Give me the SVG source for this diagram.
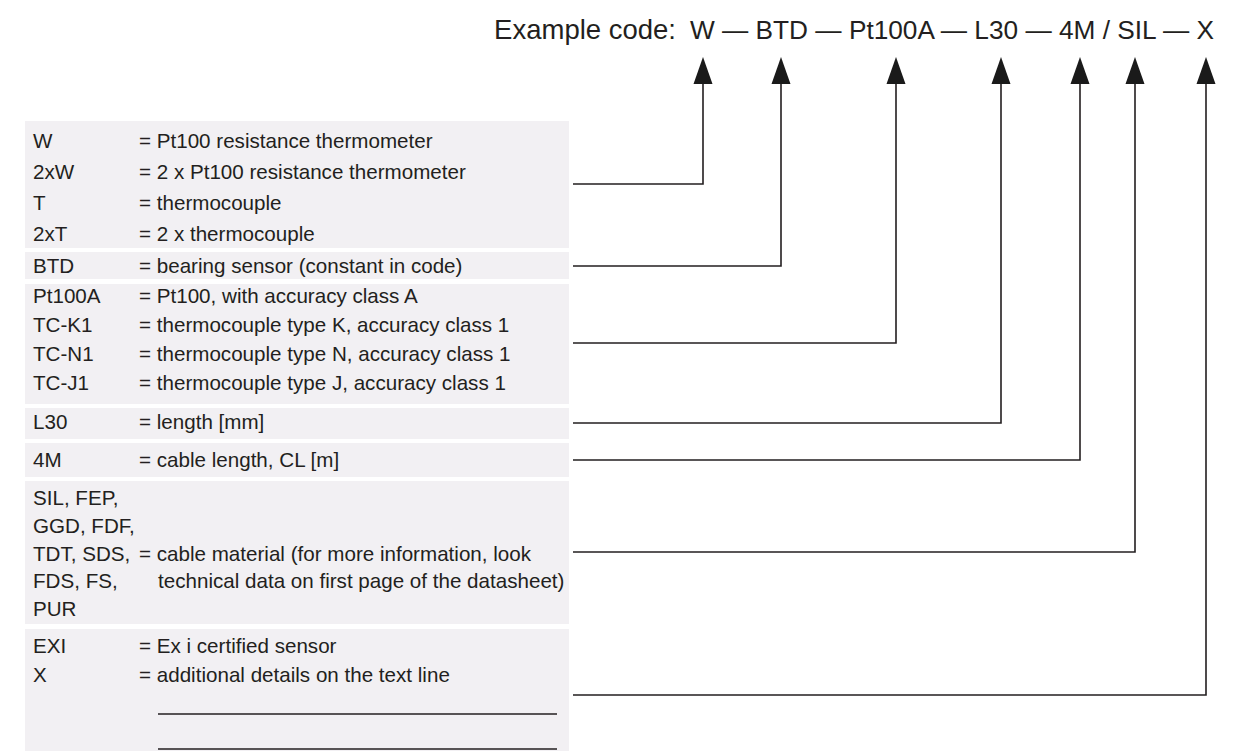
<svg xmlns="http://www.w3.org/2000/svg" width="1233" height="751" viewBox="0 0 1233 751">
<style>
.bg{fill:#f2f0f3}
.t{font-family:"Liberation Sans",Arial,sans-serif;font-size:20.6px;fill:#231f20}
.title{font-family:"Liberation Sans",Arial,sans-serif;font-size:27.5px;fill:#231f20}
.code{font-family:"Liberation Sans",Arial,sans-serif;font-size:26.5px;fill:#231f20}
.c{fill:none;stroke:#231f20;stroke-width:1.6}
.ah{fill:#1a1a1a}
.bl{stroke:#231f20;stroke-width:1.3}
</style>
<rect width="1233" height="751" fill="#ffffff"/>
<g id="title">
<text class="title" x="676" y="39" text-anchor="end">Example code:</text>
<text class="code" x="690" y="39" textLength="524" lengthAdjust="spacingAndGlyphs">W — BTD — Pt100A — L30 — 4M / SIL — X</text>
</g>
<g id="node-w">
<rect class="bg" x="25" y="121" width="544" height="127"/>
<text class="t" x="33" y="148">W</text><text class="t" x="139" y="148">= Pt100 resistance thermometer</text>
<text class="t" x="33" y="179">2xW</text><text class="t" x="139" y="179">= 2 x Pt100 resistance thermometer</text>
<text class="t" x="33" y="210">T</text><text class="t" x="139" y="210">= thermocouple</text>
<text class="t" x="33" y="241">2xT</text><text class="t" x="139" y="241">= 2 x thermocouple</text>
</g>
<g id="node-btd">
<rect class="bg" x="25" y="252" width="544" height="27"/>
<text class="t" x="33" y="273">BTD</text><text class="t" x="139" y="273">= bearing sensor (constant in code)</text>
</g>
<g id="node-pt100a">
<rect class="bg" x="25" y="284" width="544" height="120"/>
<text class="t" x="33" y="303">Pt100A</text><text class="t" x="139" y="303">= Pt100, with accuracy class A</text>
<text class="t" x="33" y="332">TC-K1</text><text class="t" x="139" y="332">= thermocouple type K, accuracy class 1</text>
<text class="t" x="33" y="361">TC-N1</text><text class="t" x="139" y="361">= thermocouple type N, accuracy class 1</text>
<text class="t" x="33" y="390">TC-J1</text><text class="t" x="139" y="390">= thermocouple type J, accuracy class 1</text>
</g>
<g id="node-l30">
<rect class="bg" x="25" y="408" width="544" height="31"/>
<text class="t" x="33" y="429">L30</text><text class="t" x="139" y="429">= length [mm]</text>
</g>
<g id="node-4m">
<rect class="bg" x="25" y="443" width="544" height="34"/>
<text class="t" x="33" y="467">4M</text><text class="t" x="139" y="467">= cable length, CL [m]</text>
</g>
<g id="node-sil">
<rect class="bg" x="25" y="481" width="544" height="143"/>
<text class="t" x="33" y="505">SIL, FEP,</text>
<text class="t" x="33" y="533">GGD, FDF,</text>
<text class="t" x="33" y="561">TDT, SDS,</text><text class="t" x="139" y="561">= cable material (for more information, look</text>
<text class="t" x="33" y="588">FDS, FS,</text><text class="t" x="158" y="588">technical data on first page of the datasheet)</text>
<text class="t" x="33" y="616">PUR</text>
</g>
<g id="node-x">
<rect class="bg" x="25" y="629" width="544" height="122"/>
<text class="t" x="33" y="653">EXI</text><text class="t" x="139" y="653">= Ex i certified sensor</text>
<text class="t" x="33" y="682">X</text><text class="t" x="139" y="682">= additional details on the text line</text>
<line class="bl" x1="158" y1="714" x2="557" y2="714"/>
<line class="bl" x1="158" y1="749" x2="557" y2="749"/>
</g>
<g id="connectors">
<polyline class="c" points="573,184 703,184 703,80"/>
<polyline class="c" points="573,266 781,266 781,80"/>
<polyline class="c" points="573,343 896,343 896,80"/>
<polyline class="c" points="573,423 1001,423 1001,80"/>
<polyline class="c" points="573,460 1080,460 1080,80"/>
<polyline class="c" points="573,552 1135,552 1135,80"/>
<polyline class="c" points="573,695 1206,695 1206,80"/>
<polygon class="ah" points="703,57 712.5,84 693.5,84"/>
<polygon class="ah" points="781,57 790.5,84 771.5,84"/>
<polygon class="ah" points="896,57 905.5,84 886.5,84"/>
<polygon class="ah" points="1001,57 1010.5,84 991.5,84"/>
<polygon class="ah" points="1080,57 1089.5,84 1070.5,84"/>
<polygon class="ah" points="1135,57 1144.5,84 1125.5,84"/>
<polygon class="ah" points="1206,57 1215.5,84 1196.5,84"/>
</g>
</svg>
